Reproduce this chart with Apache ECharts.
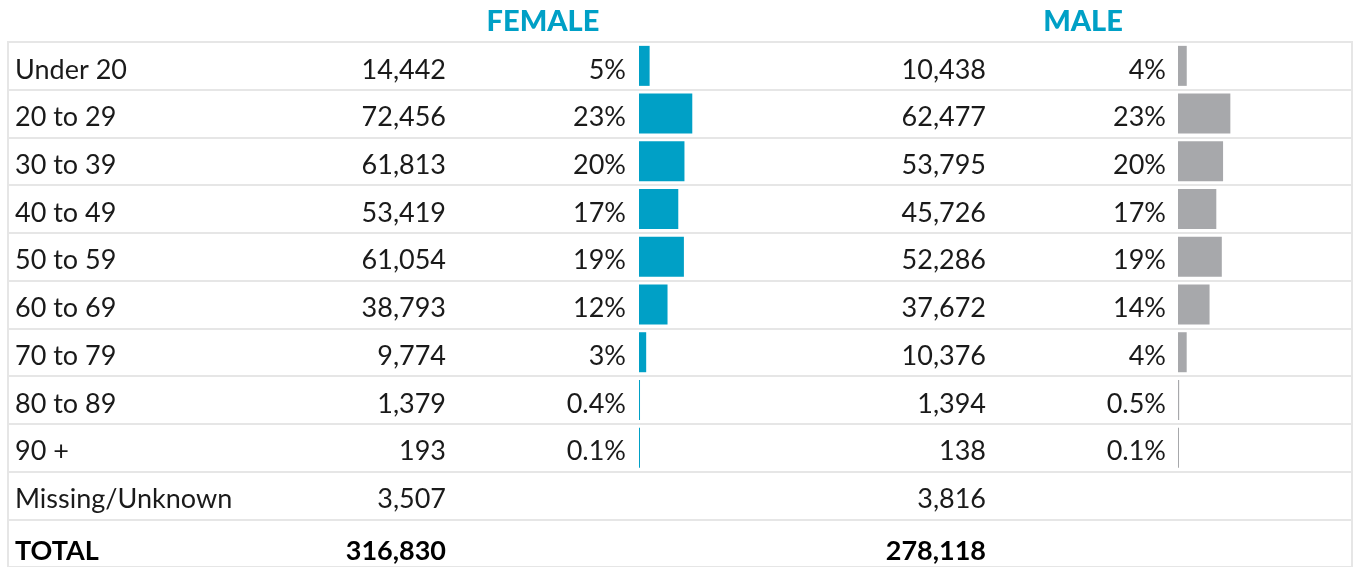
<!DOCTYPE html>
<html><head><meta charset="utf-8">
<script src="https://cdn.jsdelivr.net/npm/echarts@6/dist/echarts.min.js"></script>
<style>html,body{margin:0;padding:0;background:#fff}#c{width:1353px;height:567px}</style>
</head><body><div id="c"></div>
<script>
const ageGroups = ['Under 20','20 to 29','30 to 39','40 to 49','50 to 59','60 to 69','70 to 79','80 to 89','90 +','Missing/Unknown','TOTAL'];
const femaleCounts = [14442,72456,61813,53419,61054,38793,9774,1379,193,3507,316830];
const femalePct = ['5%','23%','20%','17%','19%','12%','3%','0.4%','0.1%','',''];
const maleCounts = [10438,62477,53795,45726,52286,37672,10376,1394,138,3816,278118];
const malePct = ['4%','23%','20%','17%','19%','14%','4%','0.5%','0.1%','',''];
const barRows = 9;

const FONT = 'Lato';
const FS = 27;
const TXT = '#1a1a1a';
const TEAL = '#00a0c6';
const GREY = '#a7a8ab';
const ROW_H = 48, TOP = 42;
const H = ROW_H * ageGroups.length;
const BAR_W = 160;            // px width of each bar column
const FULL_SHARE_PX = 233;    // px that 100% of a sex's total would take
const fmt = n => n.toLocaleString('en-US');
const lastIdx = ageGroups.length - 1;

function label(extra) {
  return Object.assign({
    fontFamily: FONT, fontSize: FS, color: TXT, padding: [8,0,0,0],
    rich: { b: { fontFamily: FONT, fontSize: FS, fontWeight: 'bold', color: '#000', padding: [8,0,0,0] } }
  }, extra);
}
function catAxis(grid, extra) {
  return Object.assign({
    type: 'category', gridIndex: grid, data: ageGroups, inverse: true,
    axisLine: {show:false}, axisTick: {show:false},
    splitLine: {show:false}
  }, extra || {});
}
const bold = (s, i) => i === lastIdx ? '{b|' + s + '}' : s;

const option = {
  animation: false,
  title: [
    { text: 'FEMALE', left: 538, top: 2, textAlign: 'center',
      textStyle: { fontFamily: FONT, fontSize: 29, fontWeight: 900, color: TEAL } },
    { text: 'MALE', left: 1078, top: 2, textAlign: 'center',
      textStyle: { fontFamily: FONT, fontSize: 29, fontWeight: 900, color: TEAL } }
  ],
  grid: [
    { left: 8, top: TOP, width: 1344, height: H, show: true, borderColor: '#e6e6e6', borderWidth: 2 },
    { left: 456, top: TOP, width: 10, height: H },
    { left: 639, top: TOP, width: BAR_W, height: H },
    { left: 996, top: TOP, width: 10, height: H },
    { left: 1178, top: TOP, width: BAR_W, height: H }
  ],
  xAxis: [
    { type: 'value', gridIndex: 0, show: false },
    { type: 'value', gridIndex: 1, show: false },
    { type: 'value', gridIndex: 2, show: false, min: 0, max: femaleCounts[lastIdx] * BAR_W / FULL_SHARE_PX },
    { type: 'value', gridIndex: 3, show: false },
    { type: 'value', gridIndex: 4, show: false, min: 0, max: maleCounts[lastIdx] * BAR_W / FULL_SHARE_PX }
  ],
  yAxis: [
    catAxis(0, {
      splitLine: { show: true, lineStyle: { color: '#e6e6e6', width: 2 } },
      axisLabel: label({ inside: true, align: 'left', margin: 7, formatter: (v, i) => bold(v, i) })
    }),
    catAxis(1, { axisLabel: label({ margin: 10, formatter: (v, i) => bold(fmt(femaleCounts[i]), i) }) }),
    catAxis(2, { axisLabel: label({ margin: 13, formatter: (v, i) => femalePct[i] }) }),
    catAxis(3, { axisLabel: label({ margin: 10, formatter: (v, i) => bold(fmt(maleCounts[i]), i) }) }),
    catAxis(4, { axisLabel: label({ margin: 12, formatter: (v, i) => malePct[i] }) })
  ],
  series: [
    { type: 'bar', xAxisIndex: 2, yAxisIndex: 2, barWidth: 40, barMinHeight: 1,
      itemStyle: { color: TEAL }, data: femaleCounts.slice(0, barRows) },
    { type: 'bar', xAxisIndex: 4, yAxisIndex: 4, barWidth: 40, barMinHeight: 1,
      itemStyle: { color: GREY }, data: maleCounts.slice(0, barRows) }
  ]
};
const chart = echarts.init(document.getElementById('c'), null, { renderer: 'canvas' });
chart.setOption(option);
</script></body></html>
